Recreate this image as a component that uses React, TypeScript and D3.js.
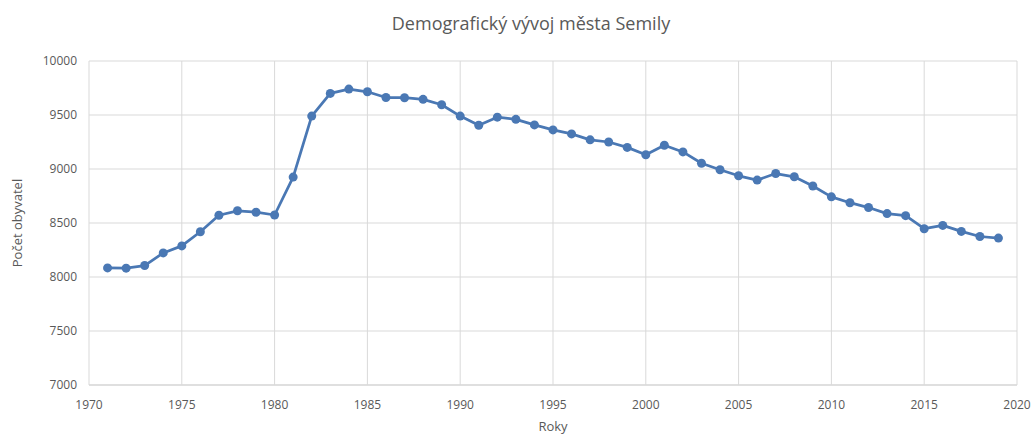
import React, { useRef, useEffect } from "react";
import * as d3 from "d3";

const years = [
  1971, 1972, 1973, 1974, 1975, 1976, 1977, 1978, 1979, 1980,
  1981, 1982, 1983, 1984, 1985, 1986, 1987, 1988, 1989, 1990,
  1991, 1992, 1993, 1994, 1995, 1996, 1997, 1998, 1999, 2000,
  2001, 2002, 2003, 2004, 2005, 2006, 2007, 2008, 2009, 2010,
  2011, 2012, 2013, 2014, 2015, 2016, 2017, 2018, 2019,
];
const population = [
  8084, 8082, 8106, 8223, 8288, 8419, 8572, 8613, 8600, 8574,
  8925, 9490, 9700, 9740, 9715, 9662, 9660, 9645, 9595, 9490,
  9405, 9480, 9460, 9408, 9362, 9325, 9270, 9250, 9200, 9132,
  9220, 9158, 9053, 8993, 8937, 8897, 8958, 8928, 8843, 8742,
  8688, 8643, 8587, 8568, 8447, 8478, 8422, 8375, 8360,
];
const xTicks = [1970, 1975, 1980, 1985, 1990, 1995, 2000, 2005, 2010, 2015, 2020];
const yTicks = [7000, 7500, 8000, 8500, 9000, 9500, 10000];

const W = 1034;
const H = 439;
const FONT = '"Open Sans", "Noto Sans", sans-serif';

const App: React.FC = () => {
  const svgRef = useRef<SVGSVGElement | null>(null);

  useEffect(() => {
    if (!svgRef.current) return;
    const svg = d3.select(svgRef.current);
    svg.selectAll("*").remove();

    const left = 89, right = 1017, top = 61, bottom = 385;
    const x = d3.scaleLinear().domain([1970, 2020]).range([left, right]);
    const y = d3.scaleLinear().domain([7000, 10000]).range([bottom, top]);

    // title
    svg.append("text")
      .attr("x", 531)
      .attr("y", 30)
      .attr("text-anchor", "middle")
      .attr("fill", "#595959")
      .attr("font-family", FONT)
      .attr("font-size", "18px")
      .text("Demografický vývoj města Semily");

    // grid
    const grid = svg.append("g");
    grid.selectAll("line.h")
      .data(yTicks)
      .join("line")
      .attr("class", "h")
      .attr("x1", left).attr("x2", right)
      .attr("y1", (d) => y(d)).attr("y2", (d) => y(d))
      .attr("stroke", (d) => (d === 7000 ? "#bfbfbf" : "#d9d9d9"))
      .attr("stroke-width", 1);
    grid.selectAll("line.v")
      .data(xTicks)
      .join("line")
      .attr("class", "v")
      .attr("x1", (d) => x(d)).attr("x2", (d) => x(d))
      .attr("y1", top).attr("y2", bottom)
      .attr("stroke", "#d9d9d9")
      .attr("stroke-width", 1);

    // tick labels
    svg.append("g").selectAll("text")
      .data(yTicks)
      .join("text")
      .attr("x", left - 12)
      .attr("y", (d) => y(d))
      .attr("dy", "0.35em")
      .attr("text-anchor", "end")
      .attr("fill", "#595959")
      .attr("font-family", FONT)
      .attr("font-size", "12px")
      .text((d) => String(d));
    svg.append("g").selectAll("text")
      .data(xTicks)
      .join("text")
      .attr("x", (d) => x(d))
      .attr("y", bottom + 24)
      .attr("text-anchor", "middle")
      .attr("fill", "#595959")
      .attr("font-family", FONT)
      .attr("font-size", "12px")
      .text((d) => String(d));

    // axis titles
    svg.append("text")
      .attr("transform", `translate(22,${(top + bottom) / 2}) rotate(-90)`)
      .attr("text-anchor", "middle")
      .attr("fill", "#595959")
      .attr("font-family", FONT)
      .attr("font-size", "13px")
      .text("Počet obyvatel");
    svg.append("text")
      .attr("x", (left + right) / 2)
      .attr("y", 431)
      .attr("text-anchor", "middle")
      .attr("fill", "#595959")
      .attr("font-family", FONT)
      .attr("font-size", "13px")
      .text("Roky");

    // line
    const pts = years.map((yr, i) => [yr, population[i]] as [number, number]);
    const line = d3.line<[number, number]>()
      .x((d) => x(d[0]))
      .y((d) => y(d[1]));
    svg.append("path")
      .datum(pts)
      .attr("d", line)
      .attr("fill", "none")
      .attr("stroke", "#4a78b4")
      .attr("stroke-width", 2.75)
      .attr("stroke-linejoin", "round");
    svg.append("g").selectAll("circle")
      .data(pts)
      .join("circle")
      .attr("cx", (d) => x(d[0]))
      .attr("cy", (d) => y(d[1]))
      .attr("r", 4.5)
      .attr("fill", "#4a78b4");
  }, []);

  return (
    <svg
      ref={svgRef}
      width={W}
      height={H}
      style={{ position: "absolute", left: 0, top: 0, background: "#fff" }}
    />
  );
};

export default App;
